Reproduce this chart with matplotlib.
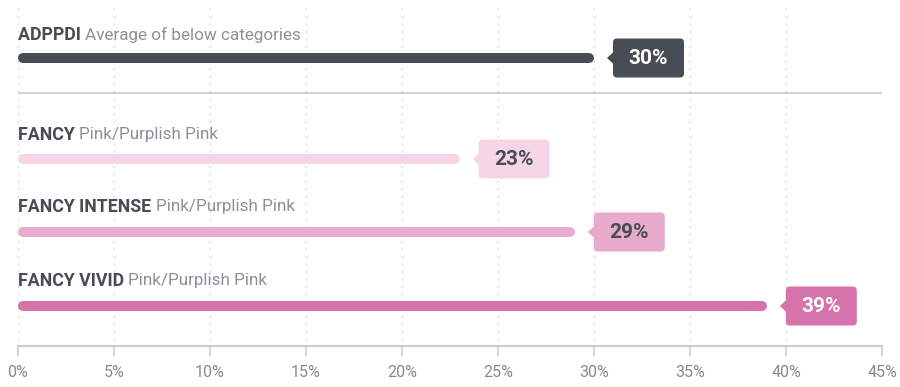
import matplotlib
matplotlib.use('Agg')
import matplotlib.pyplot as plt
import matplotlib.transforms as mtransforms
from matplotlib.patches import FancyBboxPatch, Polygon

plt.rcParams['font.family'] = ['Roboto', 'DejaVu Sans']

# data
names = ['ADPPDI', 'FANCY', 'FANCY INTENSE', 'FANCY VIVID']
descs = ['Average of below categories', 'Pink/Purplish Pink',
         'Pink/Purplish Pink', 'Pink/Purplish Pink']
values = [30, 23, 29, 39]
ticks = [0, 5, 10, 15, 20, 25, 30, 35, 40, 45]

# style / layout (pixel rows, y down)
bar_y = [58, 159, 232, 306]
label_y = [35, 135, 207, 281]
colors = ['#474c55', '#f6d6e6', '#e8abcd', '#d673aa']
box_text = ['white', '#474c55', '#474c55', 'white']
dark = '#474c55'
grey = '#8c9097'

fig = plt.figure(figsize=(9, 3.87), dpi=100)
ax = fig.add_axes([18 / 900, 0, 864 / 900, 1])
ax.set_xlim(0, 45)
ax.set_ylim(387, 0)

for s in ['top', 'left', 'right']:
    ax.spines[s].set_visible(False)
ax.spines['bottom'].set_position(('data', 346))
ax.spines['bottom'].set_color('#cccccc')
ax.spines['bottom'].set_linewidth(1.5)
ax.set_yticks([])
ax.set_xticks(ticks)
ax.set_xticklabels(['%d%%' % t for t in ticks])
ax.tick_params(axis='x', length=7, width=1.2, color='#cccccc',
               labelcolor='#8a8a8a', labelsize=11.5, pad=7)

# dotted grid
ax.vlines(ticks, 8, 346, colors='#d9d9d9', linewidth=0.9,
          linestyles=(0, (1.5, 4.5)), zorder=0)

# separator
ax.hlines(93, 0, 45, colors='#d4d4d4', linewidth=1.6, zorder=1)

px = 45 / 864  # data units per pixel
lw_px = 10
r = lw_px / 2 * px

for name, desc, v, by, ly, c, tc in zip(names, descs, values, bar_y,
                                         label_y, colors, box_text):
    ax.plot([r, v - r], [by, by], color=c, linewidth=lw_px * 0.72,
            solid_capstyle='round', zorder=3)
    t = ax.text(0, ly, name + ' ', fontsize=12.8, fontweight='bold',
                color=dark, va='center', ha='left')
    ax.annotate(desc, xycoords=t, xy=(1, 0.5), va='center', ha='left',
                fontsize=12.3, color=grey)

    trans = mtransforms.IdentityTransform() + \
        mtransforms.ScaledTranslation(v, by, ax.transData)
    box = FancyBboxPatch((19, -19.5), 71, 39,
                         boxstyle='round,pad=0,rounding_size=4',
                         fc=c, ec='none', transform=trans, zorder=4)
    fig.add_artist(box)
    tri = Polygon([(13, 0), (19.5, 6), (19.5, -6)], closed=True,
                  fc=c, ec='none', transform=trans, zorder=4)
    fig.add_artist(tri)
    fig.text(54.5, -0.5, '%d%%' % v, transform=trans, ha='center',
             va='center', fontsize=15, fontweight='bold', color=tc,
             zorder=5)

fig.savefig('out.png', dpi=100)
